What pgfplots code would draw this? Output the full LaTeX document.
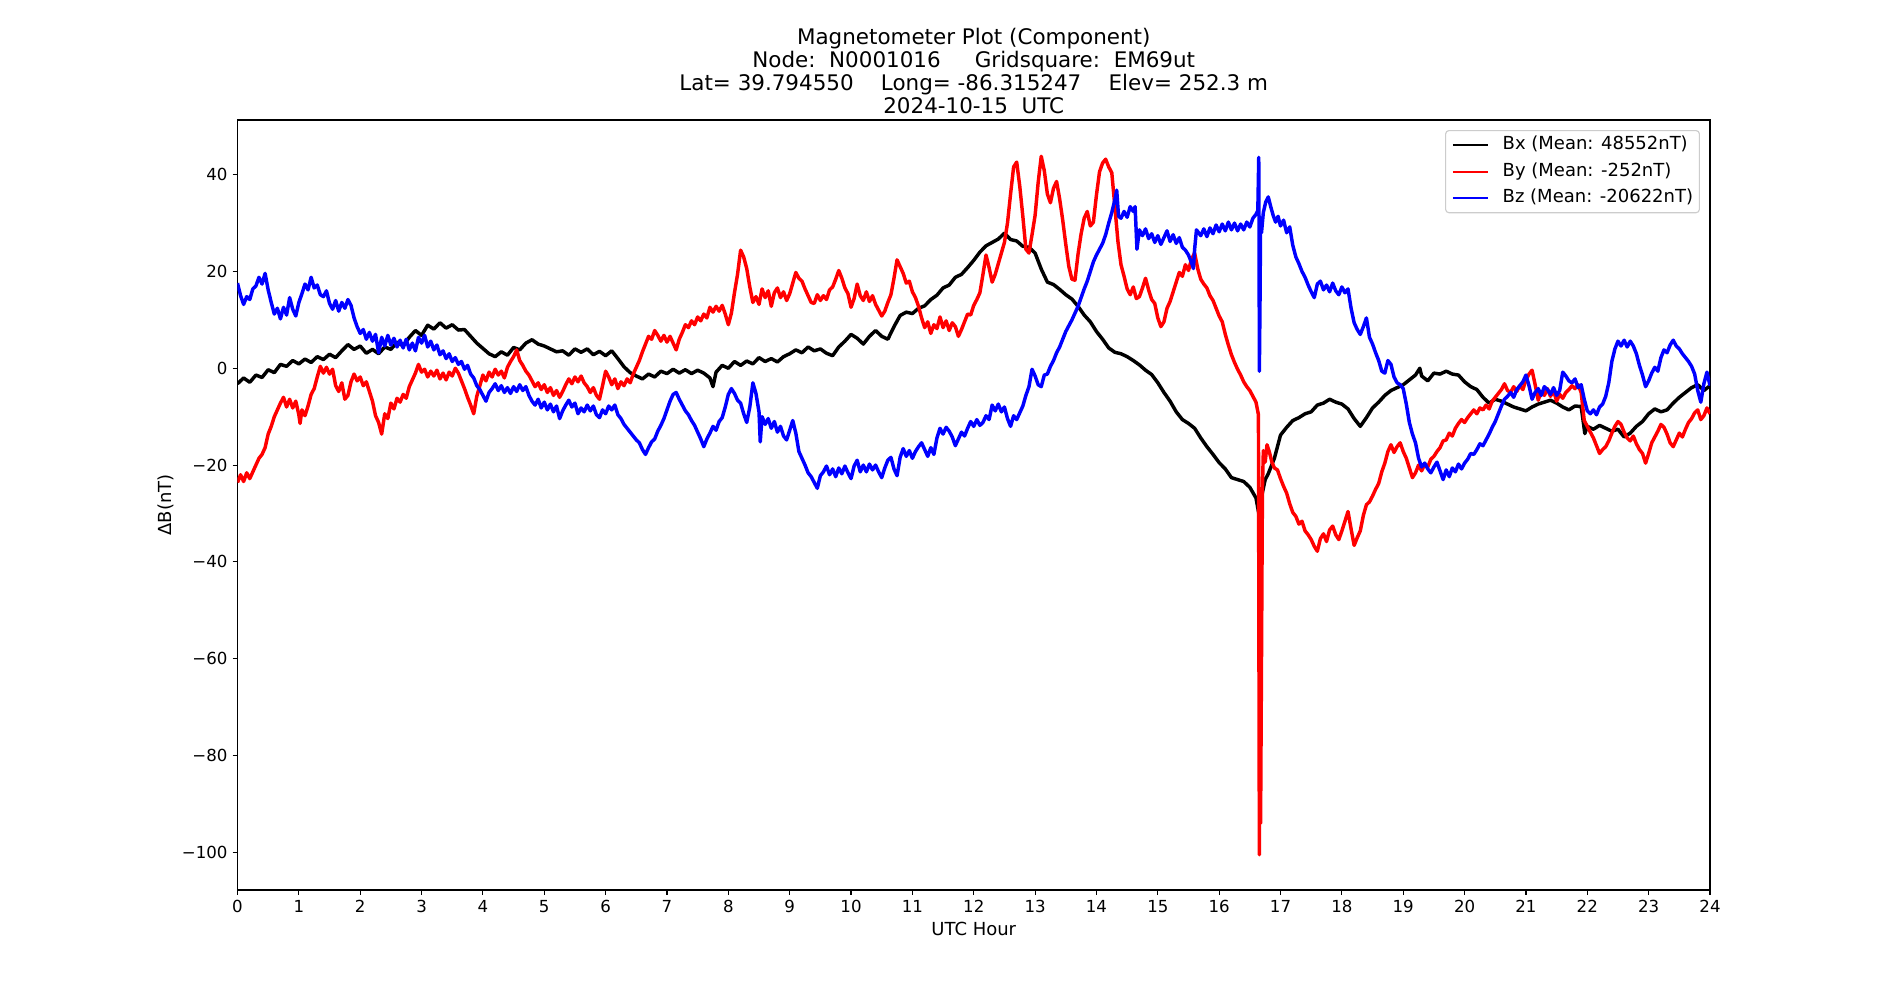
\documentclass[border=0pt]{standalone}
\usepackage{pgfplots}
\pgfplotsset{compat=1.18}
\usepackage{fontspec}
\setmainfont{DejaVu Sans}
\begin{document}
\begin{tikzpicture}
\begin{axis}[
  name=ax,
  scale only axis,
  width=14.725in, height=7.7in,
  xmin=0, xmax=24, ymin=-107.8, ymax=51.3,
  xtick={0,...,24},
  ytick={-100,-80,-60,-40,-20,0,20,40},
  yticklabels={−100,−80,−60,−40,−20,0,20,40},
  /pgf/number format/assume math mode=true,
  tick align=outside,
  major tick length=3.5pt,
  tick style={line width=0.8pt, black},
  axis line style={line width=0.8pt},
  xtick pos=bottom, ytick pos=left,
  tick label style={font=\fontsize{12}{14.4}\selectfont, inner sep=0pt},
  xticklabel shift=3.5pt, yticklabel shift=3.5pt,
  every axis title shift/.style={},
  every axis title/.style={at={(0.5,1)}, anchor=south, yshift=4.5pt, inner sep=0pt, align=center, font=\fontsize{15.5}{16.6}\selectfont},
  title={Magnetometer Plot (Component)\\Node:\hspace{0.636em}N0001016\hspace{1.59em}Gridsquare:\hspace{0.636em}EM69ut\\Lat= 39.794550\hspace{1.272em}Long= -86.315247\hspace{1.272em}Elev= 252.3 m\\2024-10-15\hspace{0.636em}UTC},
  every axis x label/.style={at={(axis description cs:0.5,-0.0592)}, anchor=base, inner sep=0pt, font=\fontsize{13}{15.6}\selectfont},
  every axis y label/.style={at={(axis description cs:-0.0445,0.5)}, rotate=90, anchor=base, inner sep=0pt, font=\fontsize{13}{15.6}\selectfont},
  xlabel={UTC Hour},
  ylabel={ΔB(nT)},
  legend cell align=left,
  legend image code/.code={\draw[#1, line width=1.5pt] (0pt,0pt) -- (25.6pt,0pt);},
  legend style={at={(0.9932,0.987)}, anchor=north east, draw=black!20, line width=0.8pt, rounded corners=2.5pt, fill=white, fill opacity=0.8, text opacity=1, font=\fontsize{13}{15.6}\selectfont, inner xsep=4.6pt, inner ysep=4pt, row sep=6.5pt, column sep=9.6pt, nodes={inner sep=0pt, text height=9.6pt, text depth=3.2pt}},
  every axis plot/.append style={line width=2.5pt, line join=round},
]
\addplot[black] coordinates {
(0.0,-3.2)(0.1,-2.0)(0.2,-2.9)(0.3,-1.4)(0.4,-1.9)(0.5,-0.3)(0.6,-0.9)(0.7,0.8)(0.8,0.4)(0.9,1.6)
(1.0,0.9)(1.1,1.9)(1.2,1.2)(1.3,2.4)(1.4,1.8)(1.5,2.9)(1.6,2.2)(1.7,3.6)(1.8,4.9)(1.9,3.9)
(2.0,4.6)(2.1,3.1)(2.2,3.9)(2.3,3.0)(2.4,4.4)(2.5,3.9)(2.6,5.4)(2.7,4.6)(2.8,6.4)(2.9,7.8)
(3.0,6.8)(3.1,8.9)(3.2,8.1)(3.3,9.4)(3.4,8.3)(3.5,9.0)(3.6,7.9)(3.7,8.0)(3.8,6.6)(3.9,5.2)
(4.0,4.1)(4.1,3.0)(4.2,2.4)(4.3,3.4)(4.4,2.7)(4.5,4.3)(4.6,3.8)(4.7,5.2)(4.8,5.9)(4.9,5.0)
(5.0,4.6)(5.1,4.0)(5.2,3.4)(5.3,3.6)(5.4,2.7)(5.5,4.0)(5.6,3.3)(5.7,4.0)(5.8,2.8)(5.9,3.5)
(6.0,2.6)(6.1,3.6)(6.2,2.0)(6.3,0.3)(6.4,-0.9)(6.5,-1.6)(6.6,-2.2)(6.7,-1.2)(6.8,-1.8)(6.9,-0.6)
(7.0,-1.1)(7.1,-0.2)(7.2,-1.0)(7.3,-0.3)(7.4,-1.1)(7.5,-0.4)(7.6,-1.0)(7.7,-2.0)(7.75,-3.8)(7.8,-0.8)(7.9,0.6)
(8.0,0.0)(8.1,1.4)(8.2,0.6)(8.3,1.5)(8.4,0.9)(8.5,2.2)(8.6,1.4)(8.7,2.0)(8.8,1.3)(8.9,2.4)
(9.0,3.0)(9.1,3.8)(9.2,3.2)(9.3,4.4)(9.4,3.6)(9.5,4.0)(9.6,3.1)(9.7,2.6)(9.8,4.4)(9.9,5.6)
(10.0,7.0)(10.1,6.2)(10.2,5.0)(10.3,6.6)(10.4,7.8)(10.5,6.6)(10.6,6.0)(10.7,8.6)(10.8,10.9)(10.9,11.6)
(11.0,11.3)(11.1,12.4)(11.2,12.9)(11.3,14.2)(11.4,15.1)(11.5,16.6)(11.6,17.2)(11.7,18.8)(11.8,19.4)(11.9,20.8)
(12.0,22.3)(12.1,24.0)(12.2,25.3)(12.3,26.0)(12.4,26.7)(12.5,27.9)(12.6,26.6)(12.7,26.3)(12.8,25.2)(12.9,25.0)
(13.0,23.8)(13.1,20.5)(13.2,17.8)(13.3,17.3)(13.4,16.3)(13.5,15.2)(13.6,14.3)(13.7,12.8)(13.8,11.0)(13.9,9.6)
(14.0,7.6)(14.1,6.0)(14.2,4.2)(14.3,3.3)(14.4,3.0)(14.5,2.4)(14.6,1.6)(14.7,0.7)(14.8,-0.4)(14.9,-1.3)
(15.0,-3.0)(15.1,-5.0)(15.2,-6.8)(15.3,-9.0)(15.4,-10.6)(15.5,-11.4)(15.6,-12.4)(15.7,-14.4)(15.8,-16.2)(15.9,-17.8)
(16.0,-19.5)(16.1,-20.8)(16.2,-22.6)(16.3,-23.0)(16.4,-23.4)(16.5,-24.6)(16.6,-26.8)(16.66,-31.0)(16.7,-26.0)(16.75,-23.0)(16.8,-21.8)(16.9,-18.6)
(17.0,-13.8)(17.1,-12.2)(17.2,-10.8)(17.3,-10.2)(17.4,-9.4)(17.5,-9.0)(17.6,-7.6)(17.7,-7.2)(17.8,-6.4)(17.9,-7.0)
(18.0,-7.4)(18.1,-8.4)(18.2,-10.4)(18.3,-12.0)(18.4,-10.2)(18.5,-8.2)(18.6,-7.0)(18.7,-5.6)(18.8,-4.6)(18.9,-4.0)
(19.0,-3.4)(19.1,-2.4)(19.2,-1.4)(19.27,0.0)(19.3,-1.6)(19.4,-2.6)(19.5,-1.0)(19.6,-1.2)(19.7,-0.6)(19.8,-1.2)(19.9,-1.4)
(20.0,-2.8)(20.1,-3.8)(20.2,-4.4)(20.3,-6.0)(20.4,-7.2)(20.5,-6.4)(20.6,-6.8)(20.7,-7.4)(20.8,-8.0)(20.9,-8.4)
(21.0,-8.8)(21.1,-8.0)(21.2,-7.4)(21.3,-7.0)(21.4,-6.6)(21.5,-7.2)(21.6,-8.0)(21.7,-8.6)(21.8,-7.8)(21.9,-7.9)(21.96,-13.5)
(22.0,-12.0)(22.1,-12.6)(22.2,-11.8)(22.3,-12.4)(22.4,-13.0)(22.5,-12.6)(22.6,-14.2)(22.7,-13.4)(22.8,-12.0)(22.9,-11.0)
(23.0,-9.4)(23.1,-8.4)(23.2,-9.0)(23.3,-8.6)(23.4,-7.2)(23.5,-6.0)(23.6,-5.0)(23.7,-4.0)(23.8,-3.4)(23.9,-4.6)(24.0,-3.6)
};
\addlegendentry{Bx (Mean: 48552nT)}
\addplot[red] coordinates {
(0.0,-23.6)(0.05,-22.0)(0.1,-23.4)(0.15,-21.6)(0.2,-22.8)(0.25,-21.4)(0.3,-20.0)(0.35,-18.6)(0.4,-17.8)(0.45,-16.4)
(0.5,-13.6)(0.55,-12.0)(0.6,-10.0)(0.65,-8.6)(0.7,-7.2)(0.75,-6.0)(0.8,-8.0)(0.85,-6.4)(0.9,-8.2)(0.95,-6.8)
(1.0,-9.6)(1.02,-11.4)(1.05,-8.6)(1.1,-9.8)(1.15,-7.8)(1.2,-5.4)(1.25,-4.2)(1.3,-1.8)(1.35,0.4)(1.4,-1.0)(1.45,0.2)
(1.5,-1.2)(1.55,-0.2)(1.6,-3.6)(1.65,-4.8)(1.7,-3.0)(1.75,-6.4)(1.8,-5.6)(1.85,-2.8)(1.9,-1.2)(1.95,-2.6)
(2.0,-1.8)(2.05,-3.6)(2.1,-2.8)(2.15,-4.8)(2.2,-6.8)(2.25,-9.8)(2.3,-11.2)(2.35,-13.6)(2.4,-9.4)(2.45,-10.4)
(2.5,-7.2)(2.55,-8.4)(2.6,-6.2)(2.65,-7.0)(2.7,-5.4)(2.75,-6.2)(2.8,-3.8)(2.85,-2.4)(2.9,-1.0)(2.95,0.8)
(3.0,-0.8)(3.05,-0.2)(3.1,-1.8)(3.15,-0.6)(3.2,-1.6)(3.25,-0.4)(3.3,-2.2)(3.35,-1.0)(3.4,-2.4)(3.45,-0.8)
(3.5,-1.6)(3.55,0.0)(3.6,-1.0)(3.65,-2.6)(3.7,-4.2)(3.75,-6.0)(3.8,-7.6)(3.85,-9.4)(3.9,-5.8)(3.95,-3.6)
(4.0,-1.4)(4.05,-2.6)(4.1,-0.8)(4.15,-1.8)(4.2,-0.2)(4.25,-1.4)(4.3,-0.6)(4.35,-2.0)(4.4,0.2)(4.45,1.4)
(4.5,2.4)(4.55,3.8)(4.6,1.6)(4.65,0.6)(4.7,-0.6)(4.75,-1.4)(4.8,-2.6)(4.85,-3.8)(4.9,-3.0)(4.95,-4.4)
(5.0,-3.4)(5.05,-5.0)(5.1,-4.0)(5.15,-5.6)(5.2,-4.6)(5.25,-6.0)(5.3,-4.8)(5.35,-3.4)(5.4,-2.2)(5.45,-3.2)
(5.5,-1.8)(5.55,-2.8)(5.6,-1.6)(5.65,-3.0)(5.7,-3.8)(5.75,-5.0)(5.8,-4.0)(5.85,-5.6)(5.9,-6.4)(5.95,-3.6)
(6.0,-0.6)(6.05,-1.8)(6.1,-3.4)(6.15,-2.2)(6.2,-4.2)(6.25,-2.8)(6.3,-3.6)(6.35,-2.2)(6.4,-3.0)(6.45,-1.2)
(6.5,0.2)(6.55,1.6)(6.6,3.4)(6.65,5.0)(6.7,6.6)(6.75,6.0)(6.8,7.8)(6.85,6.8)(6.9,5.6)(6.95,6.8)
(7.0,5.4)(7.05,6.6)(7.1,5.2)(7.15,3.8)(7.2,6.0)(7.25,7.4)(7.3,9.0)(7.35,8.4)(7.4,9.8)(7.45,9.0)
(7.5,10.6)(7.55,9.8)(7.6,11.2)(7.65,10.4)(7.7,12.6)(7.75,11.6)(7.8,12.8)(7.85,11.8)(7.9,13.0)(7.95,11.2)
(8.0,9.0)(8.05,11.4)(8.1,15.6)(8.15,19.4)(8.2,24.4)(8.25,23.0)(8.3,20.6)(8.35,16.8)(8.4,13.6)(8.45,14.8)
(8.5,13.2)(8.55,16.4)(8.6,14.6)(8.65,16.0)(8.7,12.8)(8.75,15.6)(8.8,16.6)(8.85,14.6)(8.9,15.8)(8.95,14.0)
(9.0,15.4)(9.05,17.6)(9.1,19.8)(9.15,18.6)(9.2,18.0)(9.25,16.4)(9.3,15.0)(9.35,13.6)(9.4,13.4)(9.45,15.2)
(9.5,14.0)(9.55,15.0)(9.6,14.2)(9.65,16.2)(9.7,16.8)(9.75,18.4)(9.8,20.2)(9.85,18.6)(9.9,16.6)(9.95,15.4)
(10.0,12.6)(10.05,14.4)(10.1,17.4)(10.15,15.0)(10.2,14.0)(10.25,15.8)(10.3,13.8)(10.35,15.0)(10.4,13.2)(10.45,12.0)
(10.5,10.8)(10.55,11.8)(10.6,13.6)(10.65,15.2)(10.7,18.6)(10.75,22.4)(10.8,21.0)(10.85,19.6)(10.9,17.6)(10.95,18.0)
(11.0,15.8)(11.05,14.6)(11.1,12.8)(11.15,10.4)(11.2,8.4)(11.25,9.6)(11.3,7.2)(11.35,9.0)(11.4,8.2)(11.45,10.6)
(11.5,8.4)(11.55,9.8)(11.6,7.8)(11.65,9.4)(11.7,8.6)(11.75,6.6)(11.8,8.0)(11.85,9.6)(11.9,11.2)(11.95,11.0)
(12.0,13.0)(12.05,14.2)(12.1,15.6)(12.15,19.4)(12.2,23.4)(12.25,20.8)(12.3,17.8)(12.35,19.4)(12.4,21.6)(12.45,23.8)
(12.5,26.0)(12.55,30.0)(12.6,36.0)(12.65,41.6)(12.7,42.6)(12.75,37.6)(12.8,31.4)(12.85,24.6)(12.9,23.8)(12.95,27.6)
(13.0,31.6)(13.05,38.4)(13.1,43.8)(13.15,40.8)(13.2,36.0)(13.25,34.2)(13.3,37.2)(13.35,38.6)(13.4,35.0)(13.45,30.6)
(13.5,25.6)(13.55,21.0)(13.6,18.4)(13.65,18.2)(13.7,23.6)(13.75,27.8)(13.8,31.0)(13.85,32.4)(13.9,29.4)(13.95,30.2)
(14.0,35.8)(14.05,40.6)(14.1,42.4)(14.15,43.2)(14.2,41.6)(14.25,40.4)(14.3,33.4)(14.35,26.2)(14.4,21.4)(14.45,19.0)
(14.5,16.4)(14.55,15.2)(14.6,16.8)(14.65,14.4)(14.7,14.8)(14.75,16.6)(14.8,18.6)(14.85,16.2)(14.9,14.2)(14.95,13.4)
(15.0,10.4)(15.05,8.6)(15.1,9.6)(15.15,12.4)(15.2,13.8)(15.25,15.8)(15.3,17.8)(15.35,19.8)(15.4,19.0)(15.45,21.4)
(15.5,20.2)(15.55,22.6)(15.6,23.8)(15.65,20.6)(15.7,18.4)(15.75,17.4)(15.8,16.6)(15.85,15.0)(15.9,14.0)(15.95,12.4)
(16.0,10.8)(16.05,9.6)(16.1,7.0)(16.15,4.8)(16.2,2.8)(16.25,1.2)(16.3,-0.2)(16.35,-1.4)(16.4,-2.8)(16.45,-3.8)
(16.5,-4.6)(16.55,-5.8)(16.6,-7.0)(16.64,-9.6)(16.655,-100.5)(16.665,-70.0)(16.675,-94.0)(16.69,-60.0)(16.705,-25.0)(16.72,-17.0)
(16.75,-19.4)(16.78,-15.8)(16.82,-17.4)(16.86,-19.4)(16.9,-20.6)(16.95,-21.0)
(17.0,-22.8)(17.05,-24.4)(17.1,-25.8)(17.15,-28.0)(17.2,-29.8)(17.25,-30.6)(17.3,-32.2)(17.35,-31.6)(17.4,-33.6)(17.45,-34.4)
(17.5,-35.4)(17.55,-36.8)(17.6,-37.8)(17.65,-35.2)(17.7,-34.2)(17.75,-35.8)(17.8,-33.4)(17.85,-32.6)(17.9,-34.4)(17.95,-35.4)
(18.0,-33.6)(18.05,-31.6)(18.1,-29.6)(18.15,-33.2)(18.2,-36.6)(18.25,-35.0)(18.3,-33.6)(18.35,-30.4)(18.4,-28.2)(18.45,-27.6)
(18.5,-26.4)(18.55,-25.0)(18.6,-23.8)(18.65,-21.4)(18.7,-19.6)(18.75,-17.2)(18.8,-15.8)(18.85,-17.4)(18.9,-16.2)(18.95,-15.4)
(19.0,-17.2)(19.05,-18.6)(19.1,-20.6)(19.15,-22.6)(19.2,-21.6)(19.25,-20.0)(19.3,-21.2)(19.35,-19.8)(19.4,-20.4)(19.45,-18.8)
(19.5,-18.2)(19.55,-17.2)(19.6,-16.4)(19.65,-15.0)(19.7,-14.8)(19.75,-13.4)(19.8,-14.0)(19.85,-12.4)(19.9,-11.4)(19.95,-10.6)
(20.0,-11.2)(20.05,-10.2)(20.1,-9.4)(20.15,-8.6)(20.2,-9.4)(20.25,-8.2)(20.3,-8.6)(20.35,-7.6)(20.4,-8.4)(20.45,-6.8)
(20.5,-6.0)(20.55,-5.2)(20.6,-4.4)(20.65,-3.2)(20.7,-4.6)(20.75,-5.0)(20.8,-3.8)(20.85,-4.8)(20.9,-3.6)(20.95,-4.4)
(21.0,-2.4)(21.05,-1.2)(21.1,-0.4)(21.15,-3.4)(21.2,-6.6)(21.25,-4.8)(21.3,-5.6)(21.35,-4.2)(21.4,-5.8)(21.45,-4.6)
(21.5,-6.8)(21.55,-5.4)(21.6,-6.2)(21.65,-5.0)(21.7,-4.4)(21.75,-3.6)(21.8,-4.2)(21.85,-3.4)(21.9,-5.0)(21.95,-10.8)
(22.0,-12.0)(22.05,-13.2)(22.1,-14.4)(22.15,-16.0)(22.2,-17.6)(22.25,-16.8)(22.3,-16.2)(22.35,-15.0)(22.4,-13.4)(22.45,-12.0)
(22.5,-11.0)(22.55,-11.6)(22.6,-13.2)(22.65,-14.4)(22.7,-15.0)(22.75,-14.0)(22.8,-15.6)(22.85,-16.8)(22.9,-17.6)(22.95,-19.6)
(23.0,-17.6)(23.05,-15.4)(23.1,-14.2)(23.15,-13.0)(23.2,-11.6)(23.25,-12.2)(23.3,-13.6)(23.35,-15.4)(23.4,-16.2)(23.45,-14.8)
(23.5,-13.4)(23.55,-14.2)(23.6,-12.6)(23.65,-11.2)(23.7,-10.4)(23.75,-9.2)(23.8,-8.6)(23.85,-10.6)(23.9,-9.8)(23.95,-8.2)(24.0,-9.4)
};
\addlegendentry{By (Mean: -252nT)}
\addplot[blue] coordinates {
(0.0,17.6)(0.05,15.0)(0.1,13.2)(0.15,14.8)(0.2,14.2)(0.25,16.4)(0.3,17.0)(0.35,18.8)(0.4,17.4)(0.45,19.6)
(0.5,16.2)(0.55,13.6)(0.6,11.2)(0.65,12.4)(0.7,10.2)(0.75,12.6)(0.8,11.0)(0.85,14.6)(0.9,12.2)(0.95,10.8)
(1.0,13.6)(1.05,15.4)(1.1,17.4)(1.15,16.2)(1.2,18.8)(1.25,16.6)(1.3,17.2)(1.35,15.2)(1.4,14.8)(1.45,16.0)
(1.5,13.4)(1.55,12.2)(1.6,14.0)(1.65,11.8)(1.7,13.6)(1.75,12.4)(1.8,14.2)(1.85,13.0)(1.9,10.4)(1.95,8.6)
(2.0,7.2)(2.05,8.0)(2.1,6.0)(2.15,7.4)(2.2,5.6)(2.25,7.0)(2.3,3.2)(2.35,6.4)(2.4,4.6)(2.45,6.8)
(2.5,4.8)(2.55,6.2)(2.6,4.4)(2.65,5.8)(2.7,4.2)(2.75,6.0)(2.8,3.8)(2.85,5.2)(2.9,3.6)(2.95,6.4)
(3.0,5.2)(3.05,6.8)(3.1,4.4)(3.15,5.6)(3.2,3.8)(3.25,4.8)(3.3,2.8)(3.35,3.6)(3.4,2.0)(3.45,3.0)
(3.5,1.4)(3.55,2.2)(3.6,0.8)(3.65,1.4)(3.7,-0.2)(3.75,0.6)(3.8,-1.2)(3.85,-2.0)(3.9,-3.6)(3.95,-4.4)
(4.0,-5.6)(4.05,-6.8)(4.1,-5.0)(4.15,-4.2)(4.2,-3.2)(4.25,-4.6)(4.3,-3.6)(4.35,-5.0)(4.4,-4.0)(4.45,-5.2)
(4.5,-3.8)(4.55,-4.8)(4.6,-3.4)(4.65,-4.6)(4.7,-3.8)(4.75,-5.6)(4.8,-6.8)(4.85,-7.6)(4.9,-6.4)(4.95,-8.2)
(5.0,-7.0)(5.05,-8.6)(5.1,-7.4)(5.15,-9.0)(5.2,-7.8)(5.25,-10.4)(5.3,-8.8)(5.35,-7.6)(5.4,-6.6)(5.45,-8.0)
(5.5,-7.2)(5.55,-9.4)(5.6,-8.2)(5.65,-9.0)(5.7,-7.6)(5.75,-8.8)(5.8,-7.8)(5.85,-9.6)(5.9,-10.2)(5.95,-8.6)
(6.0,-9.4)(6.05,-7.8)(6.1,-8.6)(6.15,-7.6)(6.2,-9.6)(6.25,-10.4)(6.3,-11.6)(6.35,-12.4)(6.4,-13.2)(6.45,-14.0)
(6.5,-14.8)(6.55,-15.4)(6.6,-16.8)(6.65,-17.8)(6.7,-16.4)(6.75,-15.2)(6.8,-14.6)(6.85,-13.0)(6.9,-11.8)(6.95,-10.4)
(7.0,-8.6)(7.05,-6.8)(7.1,-5.4)(7.15,-5.0)(7.2,-6.4)(7.25,-7.6)(7.3,-8.8)(7.35,-9.6)(7.4,-10.8)(7.45,-11.8)
(7.5,-13.2)(7.55,-14.6)(7.6,-16.2)(7.65,-14.6)(7.7,-13.4)(7.75,-12.0)(7.8,-12.8)(7.85,-11.0)(7.9,-10.2)(7.95,-8.0)
(8.0,-5.4)(8.05,-4.2)(8.1,-5.2)(8.15,-6.6)(8.2,-7.2)(8.25,-9.4)(8.3,-11.2)(8.35,-8.0)(8.4,-3.0)(8.45,-5.2)
(8.5,-9.0)(8.52,-15.2)(8.55,-10.0)(8.6,-11.6)(8.65,-10.4)(8.7,-12.4)(8.75,-11.0)(8.8,-13.2)(8.85,-12.0)(8.9,-14.0)(8.95,-14.8)
(9.0,-12.8)(9.05,-10.8)(9.1,-13.4)(9.15,-17.2)(9.2,-18.6)(9.25,-20.0)(9.3,-21.6)(9.35,-22.4)(9.4,-23.6)(9.45,-24.8)
(9.5,-22.2)(9.55,-21.4)(9.6,-20.2)(9.65,-22.0)(9.7,-20.8)(9.75,-22.4)(9.8,-20.6)(9.85,-21.8)(9.9,-20.2)(9.95,-21.6)
(10.0,-22.8)(10.05,-20.2)(10.1,-19.0)(10.15,-21.4)(10.2,-20.0)(10.25,-21.4)(10.3,-19.8)(10.35,-21.0)(10.4,-20.0)(10.45,-21.4)
(10.5,-22.6)(10.55,-20.6)(10.6,-19.0)(10.65,-18.4)(10.7,-20.8)(10.75,-22.2)(10.8,-18.4)(10.85,-16.6)(10.9,-18.2)(10.95,-17.0)
(11.0,-18.6)(11.05,-17.2)(11.1,-16.2)(11.15,-15.4)(11.2,-16.8)(11.25,-18.2)(11.3,-16.4)(11.35,-17.8)(11.4,-14.4)(11.45,-12.4)
(11.5,-13.6)(11.55,-12.2)(11.6,-13.0)(11.65,-14.2)(11.7,-16.0)(11.75,-14.6)(11.8,-13.2)(11.85,-14.0)(11.9,-12.4)(11.95,-11.0)
(12.0,-12.0)(12.05,-10.6)(12.1,-11.8)(12.15,-11.2)(12.2,-9.8)(12.25,-10.6)(12.3,-7.6)(12.35,-8.8)(12.4,-7.4)(12.45,-9.0)
(12.5,-8.0)(12.55,-10.4)(12.6,-12.0)(12.65,-9.8)(12.7,-10.6)(12.75,-9.2)(12.8,-7.8)(12.85,-5.6)(12.9,-3.8)(12.95,-0.2)
(13.0,-1.6)(13.05,-3.4)(13.1,-3.8)(13.15,-1.4)(13.2,-1.2)(13.25,0.4)(13.3,1.6)(13.35,3.2)(13.4,4.4)(13.45,6.0)
(13.5,7.6)(13.55,8.8)(13.6,10.0)(13.65,11.4)(13.7,12.8)(13.75,14.6)(13.8,16.4)(13.85,18.0)(13.9,20.0)(13.95,22.0)
(14.0,23.4)(14.05,24.6)(14.1,25.8)(14.15,27.6)(14.2,30.0)(14.25,32.2)(14.3,34.8)(14.33,36.8)(14.36,31.4)(14.4,31.0)
(14.45,32.4)(14.5,31.2)(14.55,33.4)(14.6,32.4)(14.63,33.4)(14.66,24.6)(14.7,28.6)(14.75,27.4)(14.8,28.8)(14.85,26.8)
(14.9,27.8)(14.95,26.0)(15.0,27.4)(15.05,25.6)(15.1,27.0)(15.15,28.4)(15.2,26.2)(15.25,27.6)(15.3,25.8)(15.35,27.0)
(15.4,25.0)(15.45,24.4)(15.5,23.4)(15.55,21.8)(15.58,20.6)(15.6,24.6)(15.63,28.6)(15.7,27.4)(15.75,28.8)(15.8,27.2)
(15.85,29.0)(15.9,27.8)(15.95,29.6)(16.0,28.2)(16.05,29.8)(16.1,28.4)(16.15,30.2)(16.2,28.6)(16.25,30.0)(16.3,28.4)
(16.35,29.8)(16.4,28.6)(16.45,30.2)(16.5,29.2)(16.55,31.0)(16.6,31.8)(16.63,32.6)(16.645,43.6)(16.65,30.0)(16.655,-0.6)
(16.665,12.6)(16.675,30.4)(16.69,28.0)(16.72,32.2)(16.76,34.4)(16.8,35.4)(16.84,33.4)(16.88,31.6)(16.92,30.2)(16.96,31.4)
(17.0,29.4)(17.05,30.6)(17.1,28.0)(17.15,29.2)(17.2,25.4)(17.25,23.0)(17.3,21.6)(17.35,20.0)(17.4,18.8)(17.45,17.2)
(17.5,15.8)(17.55,14.6)(17.6,17.4)(17.65,18.0)(17.7,16.2)(17.75,17.2)(17.8,15.8)(17.85,17.6)(17.9,16.0)(17.95,15.2)
(18.0,16.8)(18.05,15.6)(18.1,16.4)(18.15,12.4)(18.2,9.4)(18.25,8.0)(18.3,7.0)(18.35,8.6)(18.4,10.4)(18.45,6.4)
(18.5,5.0)(18.55,3.2)(18.6,1.6)(18.65,-0.6)(18.7,-1.0)(18.75,1.6)(18.8,0.8)(18.85,-1.8)(18.9,-3.0)(18.95,-3.4)
(19.0,-4.2)(19.05,-7.4)(19.1,-11.2)(19.15,-13.6)(19.2,-15.4)(19.25,-18.6)(19.3,-20.4)(19.35,-19.6)(19.4,-20.8)(19.45,-21.6)
(19.5,-20.4)(19.55,-19.4)(19.6,-21.2)(19.65,-23.0)(19.7,-21.0)(19.75,-22.4)(19.8,-20.6)(19.85,-21.4)(19.9,-19.8)(19.95,-20.8)
(20.0,-19.6)(20.05,-18.8)(20.1,-17.6)(20.15,-17.8)(20.2,-16.8)(20.25,-15.6)(20.3,-16.0)(20.35,-14.8)(20.4,-13.6)(20.45,-12.2)
(20.5,-11.0)(20.55,-9.4)(20.6,-7.8)(20.65,-6.4)(20.7,-5.8)(20.75,-5.0)(20.8,-6.0)(20.85,-4.4)(20.9,-3.6)(20.95,-2.8)
(21.0,-1.4)(21.05,-3.6)(21.1,-6.4)(21.15,-5.0)(21.2,-4.2)(21.25,-5.6)(21.3,-3.8)(21.35,-4.4)(21.4,-5.4)(21.45,-4.0)
(21.5,-5.6)(21.55,-4.6)(21.6,-0.8)(21.65,-1.6)(21.7,-2.6)(21.75,-3.0)(21.8,-2.2)(21.85,-4.0)(21.9,-3.4)(21.95,-6.4)
(22.0,-8.8)(22.05,-9.4)(22.1,-8.6)(22.15,-9.6)(22.2,-8.0)(22.25,-7.4)(22.3,-5.8)(22.35,-3.0)(22.4,1.4)(22.45,4.0)
(22.5,5.6)(22.55,4.6)(22.6,5.8)(22.65,4.4)(22.7,5.6)(22.75,4.6)(22.8,3.0)(22.85,0.6)(22.9,-1.4)(22.95,-3.8)
(23.0,-2.6)(23.05,-1.0)(23.1,0.2)(23.15,-0.6)(23.2,2.2)(23.25,3.8)(23.3,3.2)(23.35,4.8)(23.4,5.8)(23.45,4.6)
(23.5,4.0)(23.55,3.0)(23.6,2.2)(23.65,1.4)(23.7,0.4)(23.75,-1.2)(23.8,-4.6)(23.85,-7.0)(23.9,-3.2)(23.95,-0.8)(24.0,-3.6)
};
\addlegendentry{Bz (Mean: -20622nT)}
\end{axis}
\path ([shift={(-2.375in,-1.1in)}]ax.south west) rectangle ([shift={(1.9in,1.2in)}]ax.north east);
\end{tikzpicture}
\end{document}
